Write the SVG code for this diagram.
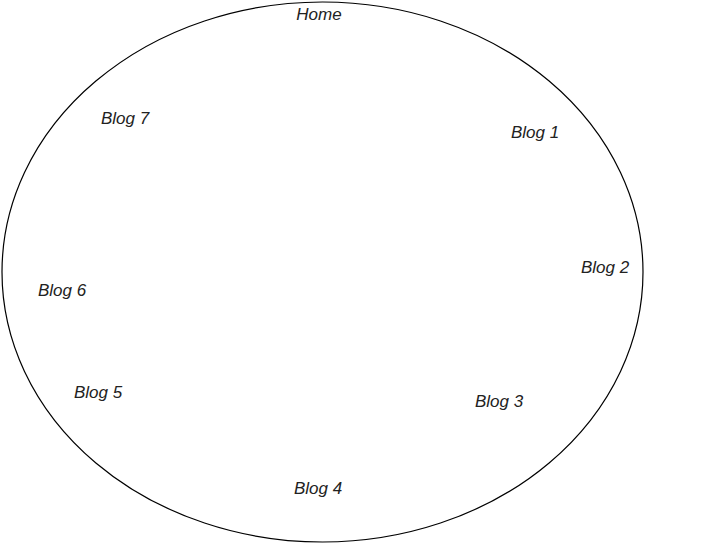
<svg xmlns="http://www.w3.org/2000/svg" width="710" height="544" viewBox="0 0 710 544">
<style>
text{font-family:"Liberation Sans","DejaVu Sans",sans-serif;font-size:17px;fill:#222;text-anchor:middle;font-style:italic}
.shape{fill:none;stroke:#000;stroke-width:1.2}
</style>
<rect width="710" height="544" fill="#fff"/>
<g id="circle"><ellipse class="shape" cx="322.5" cy="272" rx="320.5" ry="270"/></g>
<g id="connectors"></g>
<g id="home"><text x="319" y="20">Home</text></g>
<g id="blog1"><text x="535" y="138">Blog 1</text></g>
<g id="blog2"><text x="605" y="273">Blog 2</text></g>
<g id="blog3"><text x="499" y="407">Blog 3</text></g>
<g id="blog4"><text x="318" y="494">Blog 4</text></g>
<g id="blog5"><text x="98" y="398">Blog 5</text></g>
<g id="blog6"><text x="62" y="296">Blog 6</text></g>
<g id="blog7"><text x="125" y="124">Blog 7</text></g>
</svg>
